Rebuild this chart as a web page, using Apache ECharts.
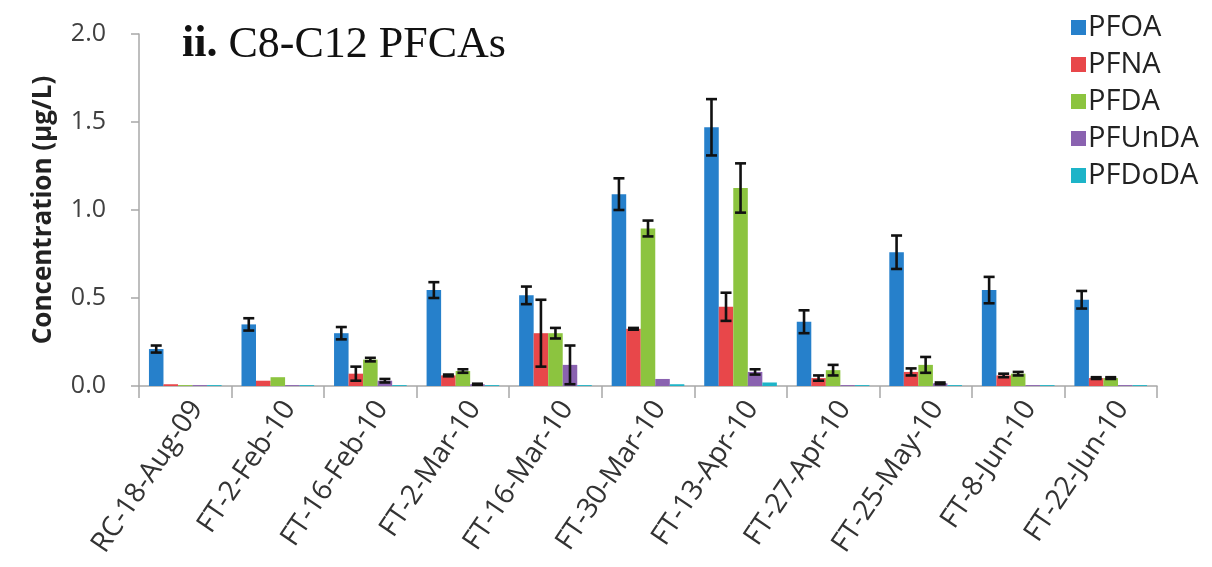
<!DOCTYPE html>
<html>
<head>
<meta charset="utf-8">
<script src="https://cdn.jsdelivr.net/npm/echarts@6/dist/echarts.min.js"></script>
<style>
html,body{margin:0;padding:0;background:#fff;}
#chart{width:1212px;height:567px;}
</style>
</head>
<body>
<div id="chart"></div>
<script>
const categories = ['RC-18-Aug-09','FT-2-Feb-10','FT-16-Feb-10','FT-2-Mar-10','FT-16-Mar-10','FT-30-Mar-10','FT-13-Apr-10','FT-27-Apr-10','FT-25-May-10','FT-8-Jun-10','FT-22-Jun-10'];
const seriesNames = ['PFOA','PFNA','PFDA','PFUnDA','PFDoDA'];
const PFOA       = [0.21, 0.35, 0.30, 0.545, 0.515, 1.09, 1.47, 0.365, 0.76, 0.545, 0.49];
const PFOA_err   = [0.02, 0.035, 0.035, 0.045, 0.05, 0.09, 0.16, 0.065, 0.095, 0.075, 0.05];
const PFNA       = [0.01, 0.03, 0.07, 0.06, 0.30, 0.325, 0.45, 0.045, 0.08, 0.06, 0.045];
const PFNA_err   = [0, 0, 0.04, 0.005, 0.19, 0.005, 0.08, 0.015, 0.02, 0.01, 0.005];
const PFDA       = [0.005, 0.05, 0.15, 0.085, 0.30, 0.895, 1.125, 0.09, 0.12, 0.07, 0.045];
const PFDA_err   = [0, 0, 0.01, 0.01, 0.03, 0.045, 0.14, 0.03, 0.045, 0.01, 0.005];
const PFUnDA     = [0.005, 0.005, 0.03, 0.01, 0.12, 0.04, 0.08, 0.005, 0.015, 0.005, 0.005];
const PFUnDA_err = [0, 0, 0.01, 0.003, 0.11, 0, 0.015, 0, 0.005, 0, 0];
const PFDoDA     = [0.005, 0.005, 0.005, 0.005, 0.005, 0.01, 0.02, 0.005, 0.005, 0.005, 0.005];
const PFDoDA_err = [0, 0, 0, 0, 0, 0, 0, 0, 0, 0, 0];
const yTicks = [0, 0.5, 1.0, 1.5, 2.0];
const titleBold = 'ii.';
const titleRest = ' C8-C12 PFCAs';
const yAxisTitle = 'Concentration (µg/L)';

const values = [PFOA, PFNA, PFDA, PFUnDA, PFDoDA];
const errors = [PFOA_err, PFNA_err, PFDA_err, PFUnDA_err, PFDoDA_err];
const colors = ['#2680cb', '#e8474a', '#8cc43f', '#8a62b0', '#1db4c8'];
const BAR_FRAC = 0.157;

const chart = echarts.init(document.getElementById('chart'), null, {renderer: 'canvas'});

const series = [];
seriesNames.forEach((name, i) => {
  series.push({
    name: name, type: 'bar', data: values[i],
    barWidth: (BAR_FRAC * 100) + '%', barGap: '0%',
    itemStyle: {color: colors[i]},
    emphasis: {disabled: true}
  });
});
seriesNames.forEach((name, i) => {
  const data = values[i].map((v, k) => [k, v, errors[i][k]]).filter(d => d[2] > 0);
  series.push({
    type: 'custom', name: name + '_err', silent: true, z: 5,
    data: data,
    renderItem: function (params, api) {
      const k = api.value(0), v = api.value(1), e = api.value(2);
      const band = api.size([1, 0])[0];
      const bw = band * BAR_FRAC;
      const c = api.coord([k, v]);
      const x = c[0] + (i - 2) * bw;
      const top = api.coord([k, v + e])[1];
      const bot = api.coord([k, Math.max(0, v - e)])[1];
      const cap = 5.5;
      const st = {stroke: '#111', lineWidth: 2.6};
      return {type: 'group', children: [
        {type: 'line', shape: {x1: x, y1: top, x2: x, y2: bot}, style: st},
        {type: 'line', shape: {x1: x - cap, y1: top, x2: x + cap, y2: top}, style: st},
        {type: 'line', shape: {x1: x - cap, y1: bot, x2: x + cap, y2: bot}, style: st}
      ]};
    }
  });
});

chart.setOption({
  animation: false,
  backgroundColor: '#fff',
  grid: {left: 139, right: 55, top: 34, bottom: 181, containLabel: false},
  legend: {
    data: seriesNames, orient: 'vertical', left: 1066, top: 8,
    itemWidth: 15, itemHeight: 15, itemGap: 8, icon: 'rect',
    textStyle: {fontFamily: 'Open Sans', fontSize: 29, color: '#222', padding: [0,0,0,-3]}
  },
  graphic: [{
    type: 'text', left: 182, top: 23,
    style: {
      text: '{b|' + titleBold + '}{r|' + titleRest + '}',
      rich: {
        b: {fontFamily: 'Liberation Serif', fontWeight: 'bold', fontSize: 44, fill: '#111'},
        r: {fontFamily: 'Liberation Serif', fontSize: 44, fill: '#111'}
      }
    }
  }],
  xAxis: {
    type: 'category', data: categories,
    axisLine: {lineStyle: {color: '#a8a8a8', width: 1.5}},
    axisTick: {show: true, length: 12, alignWithLabel: false, lineStyle: {color: '#a8a8a8', width: 1.5}},
    axisLabel: {rotate: 56, fontFamily: 'Open Sans', fontSize: 28, color: '#333', margin: 10, interval: 0,
      verticalAlign: 'top'}
  },
  yAxis: {
    type: 'value', min: yTicks[0], max: yTicks[yTicks.length - 1], interval: 0.5,
    name: yAxisTitle, nameLocation: 'middle', nameGap: 82,
    nameTextStyle: {fontFamily: 'Open Sans', fontWeight: 'bold', fontSize: 26, color: '#222'},
    axisLine: {show: true, lineStyle: {color: '#a8a8a8', width: 1.5}},
    axisTick: {show: true, length: 8, lineStyle: {color: '#a8a8a8', width: 1.5}},
    splitLine: {show: false},
    axisLabel: {fontFamily: 'Open Sans', fontSize: 25, color: '#404040', margin: 33,
      formatter: v => v.toFixed(1)}
  },
  series: series
});
</script>
</body>
</html>
